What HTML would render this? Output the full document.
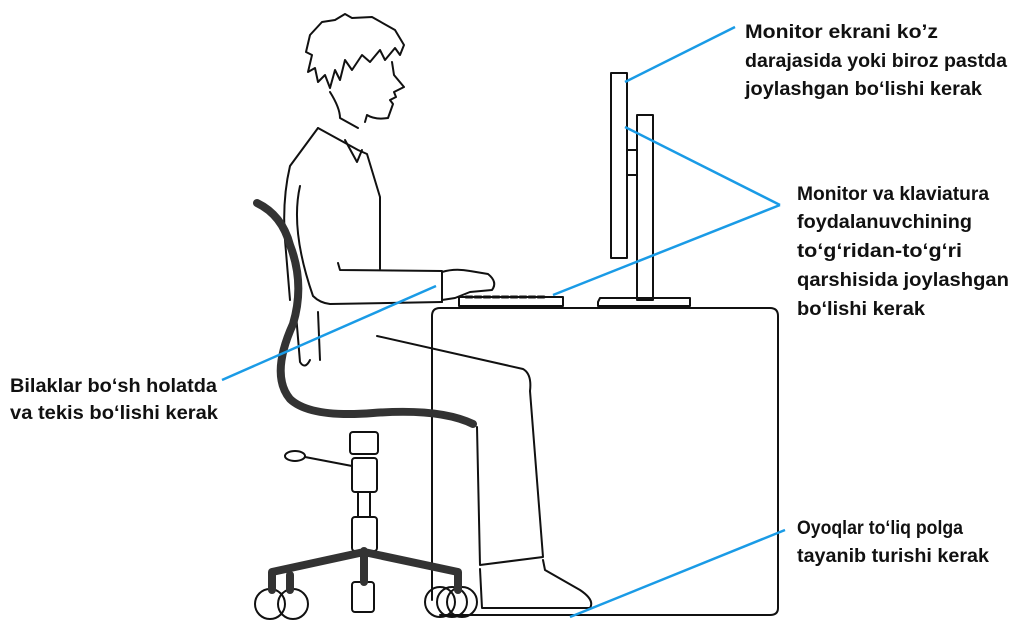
<!DOCTYPE html>
<html><head><meta charset="utf-8"><style>
html,body{margin:0;padding:0;background:#fff;}
svg{display:block}
text{font-family:"Liberation Sans",sans-serif;font-weight:bold;font-size:19px;fill:#111}
</style></head><body>
<svg width="1024" height="622" viewBox="0 0 1024 622" xmlns="http://www.w3.org/2000/svg">
<g fill="none" stroke="#111" stroke-width="2" stroke-linejoin="round" stroke-linecap="round">
<!-- desk -->
<path d="M432,600 V316 Q432,308 440,308 H770 Q778,308 778,316 V608 Q778,615 770,615 H440"/>
<!-- monitor -->
<rect x="611" y="73" width="16" height="185"/>
<rect x="637" y="115" width="16" height="185"/>
<path d="M627,150 L637,150 M627,175 L637,175"/>
<path d="M598,302 L600,298 H690 V306 H598 Z"/>
<!-- keyboard -->
<rect x="459" y="297" width="104" height="9"/>
<path d="M466,297 h80" stroke-dasharray="6,3" stroke-width="3"/>
<!-- head -->
<path d="M330,92 Q340,108 340,118 L358,128 M365,122 L367,115 Q375,120 388,118 L393,104 L390,100 L396,97 L394,92 L404,87 L394,75 L392,62"/>
<path d="M310,35 L322,22 L335,20 L345,14 L352,18 L372,17 L395,30 L404,45 L400,55 L395,48 L385,60 L380,50 L370,62 L362,55 L352,70 L345,60 L340,80 L335,70 L330,88 L325,75 L318,82 L315,68 L308,72 L312,55 L306,52 Z"/>
<!-- torso -->
<path d="M318,128 L290,166 Q282,200 285,240 L290,300"/>
<path d="M318,128 L358,150 L367,154 L380,197 L380,269"/>
<path d="M345,140 L357,162 L362,150"/>
<!-- arm -->
<path d="M300,186 Q290,230 313,296 Q320,303 330,304 L442,302"/>
<path d="M338,263 L340,270 L442,271 L442,302"/>
<path d="M442,272 Q455,268 470,271 L488,274 Q498,282 492,290 L470,292 L455,298 L442,300"/>
<!-- hips/legs -->
<path d="M296,314 L300,362 Q305,370 310,360 M318,312 L320,360"/>
<path d="M377,336 L523,369 Q532,374 530,391 L543,557 L480,565 L477,427"/>
<path d="M480,569 L482,608 L590,608 Q595,600 580,590 L545,570 L543,560"/>
<!-- chair pieces -->
<rect x="350" y="432" width="28" height="22" rx="3"/>
<rect x="352" y="458" width="25" height="34" rx="3"/>
<path d="M358,492 V517 M370,492 V517"/>
<rect x="352" y="517" width="25" height="34" rx="3"/>
<ellipse cx="295" cy="456" rx="10" ry="5"/>
<path d="M305,457 L352,466"/>
<rect x="352" y="582" width="22" height="30" rx="3"/>
<circle cx="270" cy="604" r="15"/><circle cx="293" cy="604" r="15"/>
<circle cx="440" cy="602" r="15"/><circle cx="452" cy="602" r="15"/><circle cx="462" cy="602" r="15"/>
</g>
<g fill="none" stroke="#333" stroke-linecap="round" stroke-linejoin="round">
<path d="M257,203 Q282,215 290,245 Q305,284 293,324 Q270,375 290,399 Q310,418 373,413 Q440,408 473,424" stroke-width="8"/>
<path d="M364,551 V582 M364,552 L272,572 V590 M364,552 L458,572 V590 M290,575 V590" stroke-width="8"/>
</g>
<!-- blue lines -->
<g stroke="#1a9be6" stroke-width="2.5" fill="none">
<path d="M625,82 L735,27"/>
<path d="M625,127 L780,205"/>
<path d="M553,295 L780,205"/>
<path d="M436,286 L222,380"/>
<path d="M570,617 L785,530"/>
</g>
<text x="745" y="38" textLength="193" lengthAdjust="spacingAndGlyphs">Monitor ekrani ko’z</text>
<text x="745" y="67" textLength="262" lengthAdjust="spacingAndGlyphs">darajasida yoki biroz pastda</text>
<text x="745" y="95" textLength="237" lengthAdjust="spacingAndGlyphs">joylashgan bo‘lishi kerak</text>
<text x="797" y="200" textLength="192" lengthAdjust="spacingAndGlyphs">Monitor va klaviatura</text>
<text x="797" y="228" textLength="175" lengthAdjust="spacingAndGlyphs">foydalanuvchining</text>
<text x="797" y="257" textLength="165" lengthAdjust="spacingAndGlyphs">to‘g‘ridan-to‘g‘ri</text>
<text x="797" y="286" textLength="212" lengthAdjust="spacingAndGlyphs">qarshisida joylashgan</text>
<text x="797" y="315" textLength="128" lengthAdjust="spacingAndGlyphs">bo‘lishi kerak</text>
<text x="10" y="392" textLength="207" lengthAdjust="spacingAndGlyphs">Bilaklar bo‘sh holatda</text>
<text x="10" y="419" textLength="208" lengthAdjust="spacingAndGlyphs">va tekis bo‘lishi kerak</text>
<text x="797" y="534" textLength="166" lengthAdjust="spacingAndGlyphs">Oyoqlar to‘liq polga</text>
<text x="797" y="562" textLength="192" lengthAdjust="spacingAndGlyphs">tayanib turishi kerak</text>
</svg>
</body></html>
